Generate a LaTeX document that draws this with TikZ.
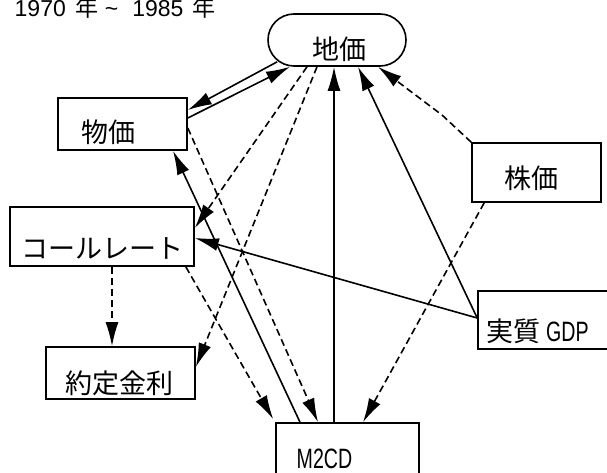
\documentclass[tikz,border=0pt]{standalone}
\usepackage{fontspec}
\setmainfont{Noto Sans CJK JP}
\newfontfamily\jp{Noto Sans CJK JP}
\newfontfamily\cond[FakeStretch=0.7]{Liberation Sans}
\newfontfamily\arialf{Liberation Sans}
\usetikzlibrary{arrows.meta}
\tikzset{
  box/.style={draw, line width=1.6pt, inner sep=0pt},
  lbl/.style={inner sep=0pt, font=\jp\fontsize{27}{27}\selectfont},
  lat/.style={inner sep=0pt, font=\cond\fontsize{28}{28}\selectfont},
  arr/.style={line width=1.6pt, -{Latex[length=24pt,width=13pt]}},
  dsh/.style={arr, dash pattern=on 7pt off 4pt},
}
\begin{document}
\begin{tikzpicture}[x=1pt,y=-1pt]
\useasboundingbox (0,0) rectangle (607,473);
% title
\node[anchor=base west, inner sep=0pt, font=\arialf\fontsize{23}{23}\selectfont] (title) at (14.5,16.5)
  {1970\hspace{10pt}{\jp 年}\hspace{6pt}\textasciitilde\hspace{14pt}1985\hspace{9pt}{\jp 年}};
% boxes
\node[box, rounded corners=26pt, minimum width=138pt, minimum height=52pt] (chika) at (337,40) {};
\node[lbl] (tchika) at (339,49) {地価};
\node[box, minimum width=129pt, minimum height=52pt] (bukka) at (122.5,124) {};
\node[lbl] (tbukka) at (108.5,132) {物価};
\node[box, minimum width=184pt, minimum height=59pt] (call) at (102,236.5) {};
\node[lbl] (tcall) at (102.5,248) {コールレート};
\node[box, minimum width=149pt, minimum height=52pt] (yakutei) at (120.5,373) {};
\node[lbl] (tyakutei) at (119.5,383) {約定金利};
\node[box, minimum width=143pt, minimum height=52pt] (m2cd) at (347.5,449) {};
\node[lat] (tm2cd) at (324.5,459) {M2CD};
\node[box, minimum width=129pt, minimum height=59pt] (kabuka) at (536.5,172.5) {};
\node[lbl] (tkabuka) at (531.5,178.5) {株価};
\node[box, minimum width=134pt, minimum height=58pt] (gdp) at (545,320) {};
\node[inner sep=0pt, anchor=west] (tgdp) at (486,331.5) {{\jp\fontsize{27}{27}\selectfont 実質}\hspace{6pt}{\cond\fontsize{28}{28}\selectfont GDP}};
\coordinate (kbend) at (442,115);
% solid connectors
\draw[arr] ([xshift=10pt,yshift=5pt]chika.south west) -- ([yshift=14pt]bukka.east);
\draw[arr] ([yshift=6pt]bukka.east) -- ([xshift=-47pt]chika.south);
\draw[arr] ([xshift=-13.5pt]m2cd.north) -- ([xshift=-3pt]chika.south);
\draw[arr] ([yshift=2pt]gdp.west) -- ([xshift=21pt]chika.south);
\draw[arr] ([yshift=2pt]gdp.west) -- ([yshift=-1.5pt]call.east);
\draw[arr] ([xshift=-47.5pt]m2cd.north) -- ([xshift=50.5pt]bukka.south);
% dashed connectors
\draw[dsh] ([xshift=-30pt]chika.south) -- ([yshift=8.5pt]call.east);
\draw[dsh] ([xshift=-20pt]chika.south) -- ([yshift=6pt]yakutei.east);
\draw[dsh] ([yshift=-4pt]bukka.east) -- ([xshift=-29.5pt]m2cd.north);
\draw[dsh] ([xshift=-9pt]call.south east) -- ([xshift=-2pt,yshift=3pt]m2cd.north west);
\draw[dsh] ([xshift=10pt]call.south) -- ([xshift=-8.5pt]yakutei.north);
\draw[dsh] (kabuka.north west) -- (kbend) -- ([xshift=41pt]chika.south);
\draw[dsh] ([xshift=13pt]kabuka.south west) -- ([xshift=15.5pt]m2cd.north);
\end{tikzpicture}
\end{document}
